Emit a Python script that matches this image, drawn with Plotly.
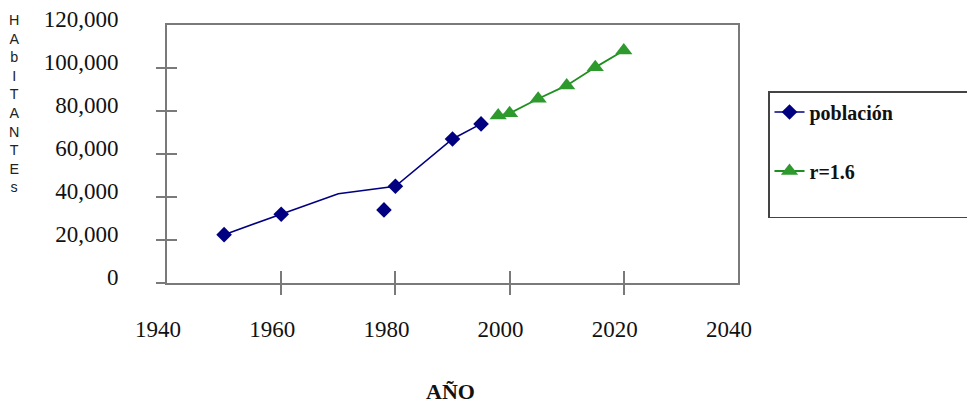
import plotly.graph_objects as go

# ---- data ----
trend_years = [1950, 1960, 1970, 1980, 1990, 1995]
trend_values = [22500, 32000, 41500, 45000, 67000, 74000]
census_years = [1950, 1960, 1978, 1980, 1990, 1995]
census_values = [22500, 32000, 34000, 45000, 67000, 74000]
proj_years = [1998, 2000, 2005, 2010, 2015, 2020]
proj_values = [77900, 78900, 85700, 91900, 100300, 108100]

x_ticks = [1940, 1960, 1980, 2000, 2020, 2040]
x_tick_marks = [1960, 1980, 2000, 2020]
y_ticks = [0, 20000, 40000, 60000, 80000, 100000, 120000]
y_tick_labels = ["0", "20,000", "40,000", "60,000", "80,000", "100,000", "120,000"]
y_title_letters = ["H", "A", "b", "I", "T", "A", "N", "T", "E", "s"]
x_title = "AÑO"
name_pop = "población"
name_proj = "r=1.6"

NAVY = "#000080"
GREEN = "#2e9a2e"
GREEN_LINE = "#1f8f1f"
FRAME = "#7a7a7a"
SERIF = "Liberation Serif"
NBSP = "\u00a0"

# page body has an 8px margin; figure coordinates = screen - 8
L, T, W, H = 159, 17, 571, 258
B = T + H


def px(xs):
    return (xs - 8 - L) / W


def py(ys):
    return (B - (ys - 8)) / H


marker_colors = [NAVY if y in census_years else "rgba(0,0,0,0)" for y in trend_years]
outliers_x = [y for y in census_years if y not in trend_years]
outliers_y = [v for y, v in zip(census_years, census_values) if y not in trend_years]

fig = go.Figure()
fig.add_trace(go.Scatter(
    x=trend_years, y=trend_values, name=name_pop + NBSP * 16, mode="lines+markers",
    line=dict(color=NAVY, width=1.6),
    marker=dict(symbol="diamond", size=12, color=marker_colors),
    legendgroup="a",
))
fig.add_trace(go.Scatter(
    x=outliers_x, y=outliers_y, mode="markers", showlegend=False,
    marker=dict(symbol="diamond", size=12, color=NAVY), legendgroup="a",
))
fig.add_trace(go.Scatter(
    x=proj_years, y=proj_values, name=name_proj + "<br>" + NBSP, mode="lines+markers",
    line=dict(color=GREEN_LINE, width=1.8),
    marker=dict(symbol="triangle-up", size=15, color=GREEN),
    legendgroup="b",
))
# empty traces so overlay tick axes render
fig.add_trace(go.Scatter(x=[], y=[], xaxis="x2", yaxis="y2", showlegend=False, hoverinfo="skip"))
fig.add_trace(go.Scatter(x=[], y=[], xaxis="x3", yaxis="y3", showlegend=False, hoverinfo="skip"))

tickfont = dict(family=SERIF, size=23, color="#111")
fig.update_layout(
    width=975, height=403,
    margin=dict(l=L, r=975 - L - W, t=T, b=403 - B, autoexpand=False),
    paper_bgcolor="white", plot_bgcolor="white",
    showlegend=True,
    legend=dict(
        x=px(768), y=py(91), xanchor="left", yanchor="top",
        xref="paper", yref="paper",
        bordercolor="#444", borderwidth=1.5, bgcolor="white",
        font=dict(family=SERIF, size=20, color="#111", weight="bold"),
        tracegroupgap=30, valign="top",
    ),
    xaxis=dict(
        range=[1940, 2040], tickvals=x_ticks, ticktext=[str(v) for v in x_ticks],
        ticks="outside", ticklen=11, tickcolor="rgba(0,0,0,0)",
        ticklabelshift=-9, ticklabelstandoff=13, ticklabeloverflow="allow",
        automargin=False,
        showgrid=False, zeroline=False,
        showline=True, mirror=True, linecolor=FRAME, linewidth=2,
        tickfont=tickfont, fixedrange=True,
    ),
    yaxis=dict(
        range=[0, 120000], tickvals=y_ticks, ticktext=y_tick_labels,
        ticks="outside", ticklen=10, tickcolor="rgba(0,0,0,0)",
        ticklabelshift=-6, ticklabelstandoff=32, ticklabeloverflow="allow",
        automargin=False,
        showgrid=False, zeroline=False,
        showline=True, mirror=True, linecolor=FRAME, linewidth=2,
        tickfont=tickfont, fixedrange=True,
    ),
    xaxis2=dict(overlaying="x", anchor="y2", range=[1940, 2040], tickvals=x_tick_marks,
                ticks="outside", ticklen=11, tickcolor=FRAME, tickwidth=1.5, automargin=False,
                showticklabels=False, showgrid=False, zeroline=False, showline=False),
    yaxis2=dict(overlaying="y", anchor="x2", range=[0, 120000], tickvals=y_ticks[:-1],
                ticks="outside", ticklen=10, tickcolor=FRAME, tickwidth=1.5, automargin=False,
                showticklabels=False, showgrid=False, zeroline=False, showline=False),
    xaxis3=dict(overlaying="x", anchor="y3", range=[1940, 2040], tickvals=x_tick_marks,
                ticks="inside", ticklen=12, tickcolor=FRAME, tickwidth=1.5, automargin=False,
                showticklabels=False, showgrid=False, zeroline=False, showline=False),
    yaxis3=dict(overlaying="y", anchor="x3", range=[0, 120000], tickvals=y_ticks[1:-1],
                ticks="inside", ticklen=10, tickcolor=FRAME, tickwidth=1.5, automargin=False,
                showticklabels=False, showgrid=False, zeroline=False, showline=False),
)

# stacked vertical y-axis title
fig.add_annotation(
    text="<br>".join(y_title_letters), xref="paper", yref="paper",
    x=px(14), y=py(10), xanchor="center", yanchor="top",
    showarrow=False, align="center",
    font=dict(family="Liberation Sans", size=14.3, color="#222"),
)
# x-axis title
fig.add_annotation(
    text=x_title, xref="paper", yref="paper",
    x=px(450), y=py(391), xanchor="center", yanchor="middle",
    showarrow=False,
    font=dict(family=SERIF, size=22, color="#111", weight="bold"),
)

fig.write_html("out.html")
